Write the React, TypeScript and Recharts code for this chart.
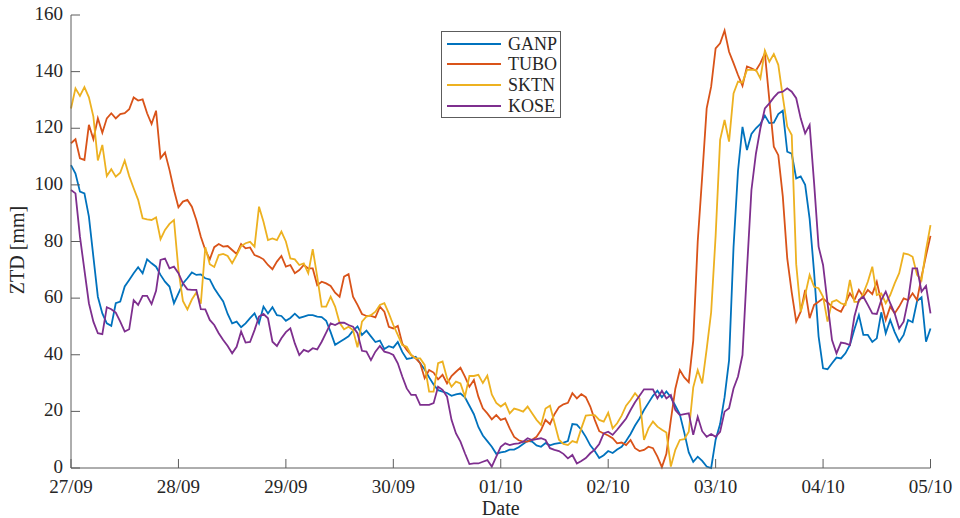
import React from 'react';
import { LineChart, Line, XAxis, YAxis, Legend } from 'recharts';

// Hourly zenith tropospheric delay (mm), 27/09 00:00 to 05/10 00:00
const GANP = [
  107, 104, 97.6, 97, 88.8, 74.6, 60.5, 54.6, 51.1, 50.2, 58.2, 58.8, 64.1, 66.4, 68.8, 70.9, 68.8, 73.7, 72.3, 71.1, 68.2, 65.8, 64.1, 58.2,
  61.7, 65.2, 67, 69.1, 68.2, 68.4, 67, 66.6, 63.5, 61.1, 58.8, 54.4, 51.1, 51.7, 49.7, 51.1, 52.9, 54.6, 51.1, 57, 54.6, 56.8, 54, 53.7,
  52, 53, 54.5, 53, 53.5, 54, 54, 53.5, 53.3, 52, 48, 43.5, 44.5, 45.5, 46.5, 48.5, 50, 47, 48.5, 46.5, 44.5, 45, 42, 43,
  42.5, 44.5, 41, 38.5, 38.8, 39.3, 37, 34.8, 32, 29.5, 27.5, 27, 26.5, 25.5, 26, 26.3, 25, 22, 19, 14.5, 11.5, 9.5, 7.5, 5,
  5.5, 5.8, 6.5, 6.5, 7.3, 8.5, 9.6, 9.3, 8, 7.5, 8.8, 8, 8.5, 8.8, 9, 9.5, 15.5, 15.3, 13.5, 11, 8, 6, 3.5, 4.5,
  6, 5.3, 6.5, 7.5, 9.5, 12, 15, 17.5, 20.5, 23, 25.5, 27.3, 25, 27, 25, 22, 19, 12.5, 5.5, 2.2, 4, 2.5, 0.5, 0,
  10, 15.5, 25, 38, 78, 105, 120.5, 112.3, 118, 120, 121.5, 124.5, 121.8, 122, 125, 126.2, 111.7, 111, 102.3, 103, 100, 88, 69, 46.5,
  35.2, 34.9, 37, 39, 38.7, 40.5, 43.5, 49, 54, 47, 47, 44.5, 45.8, 55, 47.6, 52.3, 48, 44.6, 47, 52.3, 51.5, 59, 60.3, 44.6, 49.3,
];

const TUBO = [
  114.7, 116.1, 109.4, 108.8, 121.2, 116.1, 123.5, 118.4, 123.5, 125.3, 123.5, 125, 125.3, 126.7, 130.9, 129.8, 130.2, 125.3, 121.5, 126.2, 109.4, 111.4, 105.3, 98.2,
  92.1, 94.1, 94.7, 92.3, 87.6, 81.7, 77, 73.7, 78, 79.1, 78.2, 78.4, 77, 75.6, 79.1, 77.6, 77.9, 75.2, 74.6, 73.7, 71.7, 70.2, 72.9, 74.9,
  71.1, 71.7, 68.8, 69.9, 71.7, 70.5, 70.5, 64.6, 65.8, 65.2, 64.3, 61.9, 60.5, 67.6, 68.5, 60.5, 57.6, 54.4, 53.7, 53.7, 53.2, 57, 55.2, 49.9,
  49.3, 50.2, 44, 41.7, 39.9, 38.7, 37, 31.7, 34.6, 33.7, 31.3, 32.9, 29.9, 32.5, 34, 35.4, 32.3, 28.7, 31.1, 25.2, 21.1, 19.3, 17.2, 18.7,
  17, 17.5, 14, 11, 9.8, 9.3, 9.3, 10, 11, 13.4, 17, 15.5, 19, 21.5, 22.5, 23, 26.4, 24.6, 26.1, 25, 21.7, 17, 13, 12.2,
  11.5, 10.5, 8.7, 9, 8.1, 9.9, 7, 6, 6.4, 7.5, 7, 4, 0.3, 5, 17, 28, 34.6, 32, 30.3, 45, 80, 103, 127, 134.7,
  148.2, 150, 154.5, 147, 143, 138.8, 135, 141.8, 141.2, 140.4, 143, 146.5, 130, 113.5, 110.5, 96, 74, 62, 51.7, 55.2, 62.9, 52.9, 57.6, 58.7,
  59.9, 58.5, 57, 56, 55.2, 58.2, 61.7, 59.3, 62.9, 60.5, 62.9, 61.4, 65.8, 58.7, 52.3, 57, 54.6, 57, 59.9, 59.3, 61.7, 59.3, 67.6, 75, 82,
];

const SKTN = [
  127, 134.1, 131.4, 134.5, 130.9, 124.1, 108.6, 114.1, 103.1, 105.5, 102.9, 104.3, 108.6, 103.1, 98.8, 94.7, 88.2, 87.8, 87.6, 88.5, 80.8, 84.1, 86.2, 87.6,
  70, 59, 56, 59.5, 62, 58, 78, 72, 71, 75.2, 75.6, 74.9, 72.3, 75.2, 78.4, 79.4, 79.9, 78.2, 92.3, 87, 80.5, 81.1, 80.5, 83.5,
  80, 74, 73.7, 71.7, 72.3, 68.8, 77.3, 67.6, 57, 57, 60.5, 57, 51.3, 49, 49.9, 48.7, 42.6, 51.7, 53.5, 54, 55.2, 57.6, 58.2, 54.6,
  50.5, 47, 43.4, 42.8, 39.9, 38.7, 38.7, 36.4, 27, 27, 37, 37.6, 31.7, 28.7, 30.5, 29.9, 25.2, 32.5, 32.5, 32.9, 30, 32.6, 26, 23,
  21.7, 22.9, 19.3, 21, 20.5, 19.9, 21.7, 19.3, 17, 15.2, 21, 22, 16, 10, 8.5, 8.1, 9.5, 9, 14, 18.5, 18.7, 18.7, 17, 16.4,
  19.5, 14, 15.8, 18.5, 22, 24, 26.4, 24.5, 9.9, 14, 16.4, 14.6, 13.5, 12.5, 0.5, 6.4, 9.9, 10.2, 12.8, 28.5, 34.6, 29.9, 42, 55,
  82, 115.9, 122.9, 115.3, 132.3, 136.5, 136.1, 140.6, 140.6, 140.6, 137.6, 147.4, 143.5, 146.2, 142.4, 131.2, 120.6, 117.6, 72, 55.2, 61.1, 68.2, 64, 63.5,
  60.5, 51.7, 58.7, 59.3, 58.2, 57.6, 66.4, 58.7, 58.7, 61.7, 65.8, 71.1, 61.1, 61.7, 58.2, 61.1, 65.2, 68.8, 75.8, 75.5, 74.6, 68.2, 66.4, 77, 85.8,
];

const KOSE = [
  98.2, 97, 81.7, 69.9, 58.2, 51.7, 47.6, 47.3, 56.8, 56.1, 54.9, 51.7, 48.2, 49, 59.3, 57.6, 60.8, 60.8, 57.9, 62.6, 73.5, 74, 70.5, 71.1,
  68.8, 65.2, 63.1, 62.9, 62.9, 56.1, 56, 52.3, 50.5, 47.6, 45.2, 43.1, 40.5, 42.8, 48.2, 44.3, 44.5, 48.7, 53.5, 54.4, 52.9, 44.6, 43.1, 45.8,
  48, 49.3, 44, 39.9, 41.7, 41.1, 42.3, 41.9, 44.6, 47.8, 51.1, 50.5, 51.3, 51.3, 50.5, 49.9, 47.6, 41.4, 41.1, 38.1, 41.1, 43.1, 41.1, 40.7,
  39.9, 37, 32.3, 28.1, 25.8, 25.8, 22.3, 22.3, 22.3, 22.9, 28.7, 27.6, 25.2, 17, 12.2, 9.3, 5.2, 1.4, 1.6, 1.6, 2.2, 2.8, 0.5, 4,
  7.5, 8.7, 8.1, 8.5, 8.7, 9.3, 10.5, 9.9, 10.2, 10.5, 9.9, 7, 6.4, 6, 5, 3.4, 4.6, 1.6, 2.5, 3.5, 5.2, 6.5, 8.5, 12.2,
  12.8, 11.7, 13.5, 15.5, 17.5, 20.5, 23.2, 25.5, 27.8, 27.8, 27.8, 24.6, 27.3, 24.6, 25.8, 20.5, 18.7, 19, 19.3, 11.7, 18.1, 13, 11, 12,
  11, 12.8, 19.9, 21.1, 28.1, 32.3, 39.9, 70, 98.2, 111, 120, 127, 128.8, 130.9, 132.6, 132.9, 134.1, 132.9, 130.6, 123.5, 118.2, 121.2, 100.6, 78.2,
  71.7, 58.2, 45.2, 40.5, 44.3, 44, 43.4, 53.5, 59.3, 60.5, 57.6, 54.6, 54.4, 59.3, 62.3, 58.2, 54.6, 49.3, 51.7, 59.3, 70.5, 70.5, 62.3, 64.3, 54.6,
];

// Day ticks (hours since 27/09 00:00) and their labels
const DAY_TICKS = [0, 24, 48, 72, 96, 120, 144, 168, 192];
const DAY_LABELS = ['27/09', '28/09', '29/09', '30/09', '01/10', '02/10', '03/10', '04/10', '05/10'];
const ZTD_TICKS = [0, 20, 40, 60, 80, 100, 120, 140, 160];

const SERIES = [
  { key: 'GANP', color: '#0072BD' },
  { key: 'TUBO', color: '#D95319' },
  { key: 'SKTN', color: '#EDB120' },
  { key: 'KOSE', color: '#7E2F8E' },
];

const rows = GANP.map((v, i) => ({
  hour: i,
  GANP: v,
  TUBO: TUBO[i],
  SKTN: SKTN[i],
  KOSE: KOSE[i],
}));

const FONT = "'Liberation Serif', 'Times New Roman', serif";
const AXIS_COLOR = '#5c5c5c';
const TEXT_COLOR = '#262626';
const TICK_LEN = 9;
const TICK_FONT = 19;
const TITLE_FONT = 20;

function BottomTick(props: any) {
  const { x, y, payload } = props;
  const idx = DAY_TICKS.indexOf(payload.value);
  return (
    <g>
      <line x1={x} y1={y} x2={x} y2={y - TICK_LEN} stroke={AXIS_COLOR} strokeWidth={1} />
      <text x={x} y={y + 25} textAnchor="middle" fontFamily={FONT} fontSize={TICK_FONT} fill={TEXT_COLOR}>
        {idx >= 0 ? DAY_LABELS[idx] : ''}
      </text>
    </g>
  );
}

function TopTick(props: any) {
  const { x, y } = props;
  return <line x1={x} y1={y} x2={x} y2={y + TICK_LEN} stroke={AXIS_COLOR} strokeWidth={1} />;
}

function LeftTick(props: any) {
  const { x, y, payload } = props;
  return (
    <g>
      <line x1={x} y1={y} x2={x + TICK_LEN} y2={y} stroke={AXIS_COLOR} strokeWidth={1} />
      <text x={x - 8} y={y + 5} textAnchor="end" fontFamily={FONT} fontSize={TICK_FONT} fill={TEXT_COLOR}>
        {payload.value}
      </text>
    </g>
  );
}

function RightTick(props: any) {
  const { x, y } = props;
  return <line x1={x} y1={y} x2={x - TICK_LEN} y2={y} stroke={AXIS_COLOR} strokeWidth={1} />;
}

// Legend entries follow the plotting order of the series
function LegendBox() {
  return (
    <div
      style={{
        position: 'relative',
        width: 120,
        height: 87,
        boxSizing: 'border-box',
        border: `1px solid ${AXIS_COLOR}`,
        background: '#fff',
        fontFamily: FONT,
        fontSize: 18,
        color: TEXT_COLOR,
      }}
    >
      {SERIES.map((s, i) => (
        <div key={s.key} style={{ position: 'absolute', left: 0, top: 11.5 + 20.8 * i - 11, height: 22, width: '100%' }}>
          <div style={{ position: 'absolute', left: 5, top: 10, width: 54, height: 2, background: s.color }} />
          <div style={{ position: 'absolute', left: 66, top: 0, lineHeight: '22px', whiteSpace: 'nowrap' }}>{s.key}</div>
        </div>
      ))}
    </div>
  );
}

export default function App() {
  return (
    <div style={{ position: 'absolute', left: 0, top: 0, width: 960, height: 518, background: '#fff' }}>
      <LineChart width={960} height={518} data={rows} margin={{ top: 15, right: 29.5, bottom: 20, left: 0 }}>
        <XAxis
          dataKey="hour"
          type="number"
          domain={[0, 192]}
          ticks={DAY_TICKS}
          interval={0}
          height={30}
          tickLine={false}
          tickSize={0}
          tickMargin={0}
          axisLine={{ stroke: AXIS_COLOR, strokeWidth: 1 }}
          tick={(p: any) => <BottomTick {...p} />}
          label={() => (
            <text x={500.75} y={515} textAnchor="middle" fontFamily={FONT} fontSize={TITLE_FONT} fill={TEXT_COLOR}>
              Date
            </text>
          )}
        />
        <XAxis
          xAxisId="top"
          orientation="top"
          dataKey="hour"
          type="number"
          domain={[0, 192]}
          ticks={DAY_TICKS}
          interval={0}
          height={0}
          tickLine={false}
          tickSize={0}
          tickMargin={0}
          axisLine={{ stroke: AXIS_COLOR, strokeWidth: 1 }}
          tick={(p: any) => <TopTick {...p} />}
        />
        <YAxis
          type="number"
          domain={[0, 160]}
          ticks={ZTD_TICKS}
          interval={0}
          width={71}
          tickLine={false}
          tickSize={0}
          tickMargin={0}
          axisLine={{ stroke: AXIS_COLOR, strokeWidth: 1 }}
          tick={(p: any) => <LeftTick {...p} />}
          label={() => (
            <text
              x={24}
              y={250}
              transform="rotate(-90 24 250)"
              textAnchor="middle"
              fontFamily={FONT}
              fontSize={TITLE_FONT}
              fill={TEXT_COLOR}
            >
              ZTD [mm]
            </text>
          )}
        />
        <YAxis
          yAxisId="right"
          orientation="right"
          type="number"
          domain={[0, 160]}
          ticks={ZTD_TICKS}
          interval={0}
          width={0}
          tickLine={false}
          tickSize={0}
          tickMargin={0}
          axisLine={{ stroke: AXIS_COLOR, strokeWidth: 1 }}
          tick={(p: any) => <RightTick {...p} />}
        />
        {SERIES.map((s) => (
          <Line
            key={s.key}
            type="linear"
            dataKey={s.key}
            name={s.key}
            stroke={s.color}
            strokeWidth={1.8}
            dot={false}
            activeDot={false}
            isAnimationActive={false}
          />
        ))}
        <Legend
          layout="vertical"
          align="center"
          verticalAlign="middle"
          wrapperStyle={{ left: 441, top: 31, width: 120, height: 87 }}
          content={() => <LegendBox />}
        />
      </LineChart>
    </div>
  );
}
